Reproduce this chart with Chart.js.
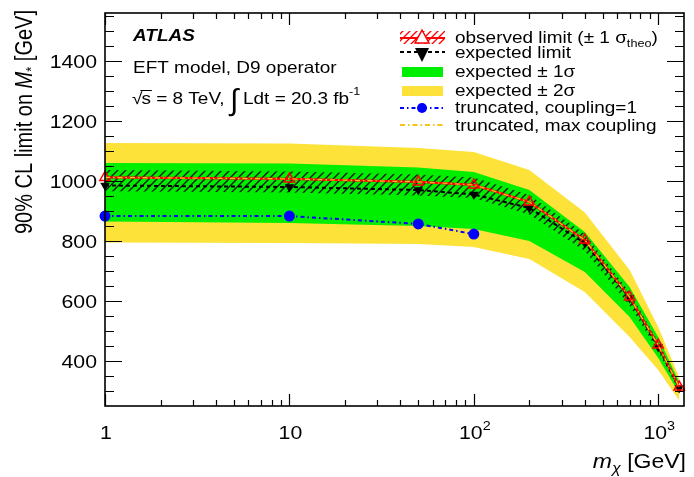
<!DOCTYPE html>
<html>
<head>
<meta charset="utf-8">
<script src="https://cdn.jsdelivr.net/npm/chart.js@4.4.0/dist/chart.umd.min.js"></script>
<style>
  html, body { margin: 0; padding: 0; background: #fff; }
  #wrap { width: 694px; height: 477px; position: relative; }
</style>
</head>
<body>
<div id="wrap"><canvas id="limitChart"></canvas></div>
<script>
// dark matter mass points [GeV] and limits on M* [GeV]
const massPoints    = [1, 10, 50, 100, 200, 400, 700, 1000, 1300];
const observedLimit = [1012, 1007, 997, 987, 930, 803, 613, 453, 313];
const theoUp        = [1037, 1032, 1022, 1012, 953, 823, 628, 464, 321];
const theoDown      = [966, 962, 952, 943, 888, 767, 585, 433, 299];
const expectedLimit = [985, 980, 970, 955, 910, 793, 610, 447, 310];
const sigma1Up      = [1060, 1058, 1045, 1030, 970, 830, 647, 480, 330];
const sigma1Down    = [865, 860, 850, 840, 800, 697, 547, 410, 292];
const sigma2Up      = [1127, 1125, 1110, 1097, 1037, 895, 703, 513, 345];
const sigma2Down    = [795, 793, 790, 780, 740, 630, 480, 370, 268];

const truncMass       = [1, 10, 50, 100];
const truncCoupling1  = [883, 883, 857, 823];
const truncMaxCoupling = [1012, 1007, 997, 987, 930, 803, 613, 453, 313];

const yTicks = [400, 600, 800, 1000, 1200, 1400];
const xTicks = [1, 10, 100, 1000];
const xTickBase = ['1', '10', '10', '10'];
const xTickExp  = ['', '', '2', '3'];

const FONT = '"Liberation Sans", Arial, Helvetica, sans-serif';
const SX = 1.15; // the original picture is a bit stretched sideways

const YELLOW = '#fde23a';
const GREEN = '#00ee00';

const toXY = (xs, ys) => xs.map((x, i) => ({ x: x, y: ys[i] }));

function makeHatch(color, gap, width) {
    const c = document.createElement('canvas');
    c.width = gap; c.height = gap;
    const g = c.getContext('2d');
    g.strokeStyle = color;
    g.lineWidth = width;
    g.beginPath();
    g.moveTo(-1, gap + 1); g.lineTo(gap + 1, -1);
    g.moveTo(-1, 1); g.lineTo(1, -1);
    g.moveTo(gap - 1, gap + 1); g.lineTo(gap + 1, gap - 1);
    g.stroke();
    return g.createPattern(c, 'repeat');
}

// draws a run of text pieces (for sub/superscripts), returns total width
function rich(ctx, parts, x, y, opts = {}) {
    const sx = opts.sx ?? SX, sy = opts.sy ?? 1;
    ctx.save();
    ctx.textBaseline = 'alphabetic';
    ctx.textAlign = 'left';
    ctx.fillStyle = opts.color || '#000';
    let total = 0;
    const widths = parts.map(p => {
        ctx.font = `${p.style || ''} ${p.size}px ${FONT}`;
        const w = ctx.measureText(p.t).width * sx + (p.gap || 0);
        total += w;
        return w;
    });
    let cx = x;
    if (opts.align === 'right') cx = x - total;
    else if (opts.align === 'center') cx = x - total / 2;
    parts.forEach((p, i) => {
        ctx.font = `${p.style || ''} ${p.size}px ${FONT}`;
        ctx.save();
        ctx.translate(cx, y + (p.dy || 0));
        ctx.scale(sx, sy);
        ctx.fillText(p.t, 0, 0);
        ctx.restore();
        cx += widths[i];
    });
    ctx.restore();
    return total;
}

const atlasDecor = {
    id: 'atlasDecor',
    afterDraw(chart) {
        const { ctx, chartArea: a, scales: { x, y } } = chart;
        ctx.save();

        // frame + inner ticks
        ctx.strokeStyle = '#000';
        ctx.lineWidth = 1.2;
        ctx.beginPath();
        for (let v = 250; v <= 1560; v += 50) {
            const py = Math.round(y.getPixelForValue(v)) + 0.5;
            if (py < a.top || py > a.bottom) continue;
            const len = v % 200 === 0 ? 17 : 9;
            ctx.moveTo(a.left, py); ctx.lineTo(a.left + len, py);
            ctx.moveTo(a.right, py); ctx.lineTo(a.right - len, py);
        }
        for (let d = 1; d <= 1000; d *= 10) {
            for (let k = 1; k <= 9; k++) {
                const v = d * k;
                if (v > x.max) break;
                const px = Math.round(x.getPixelForValue(v)) + 0.5;
                const len = k === 1 ? 12 : 6;
                ctx.moveTo(px, a.bottom); ctx.lineTo(px, a.bottom - len);
                ctx.moveTo(px, a.top); ctx.lineTo(px, a.top + len);
            }
        }
        ctx.stroke();
        ctx.lineWidth = 1.6;
        ctx.strokeRect(a.left, a.top, a.right - a.left, a.bottom - a.top);

        // tick labels
        yTicks.forEach(v => {
            rich(ctx, [{ t: String(v), size: 18.5 }], 97, y.getPixelForValue(v) + 6.6, { align: 'right' });
        });
        xTicks.forEach((v, i) => {
            const parts = [{ t: xTickBase[i], size: 18.5 }];
            if (xTickExp[i]) parts.push({ t: xTickExp[i], size: 12.5, dy: -9 });
            rich(ctx, parts, x.getPixelForValue(v) + 1, 439, { align: 'center' });
        });

        // axis titles
        rich(ctx, [
            { t: 'm', size: 20, style: 'italic' },
            { t: 'χ', size: 14, style: 'italic', dy: 5 },
            { t: ' [GeV]', size: 20 }
        ], a.right + 2, 468, { align: 'right' });

        ctx.save();
        ctx.translate(32, 10);
        ctx.rotate(-Math.PI / 2);
        rich(ctx, [
            { t: '90% CL limit on ', size: 20 },
            { t: 'M', size: 20, style: 'italic' },
            { t: '*', size: 13, dy: 4 },
            { t: ' [GeV]', size: 20 }
        ], 0, 0, { align: 'right', sx: 1, sy: SX });
        ctx.restore();

        // ATLAS label block
        rich(ctx, [{ t: 'ATLAS', size: 16.5, style: 'italic bold' }], 133, 41);
        rich(ctx, [{ t: 'EFT model, D9 operator', size: 16.5 }], 133, 73);
        const wRoot = rich(ctx, [{ t: '√', size: 16.5 }], 132, 104);
        const wS = rich(ctx, [{ t: 's', size: 16.5 }], 132 + wRoot - 1, 104);
        ctx.lineWidth = 1;
        ctx.beginPath();
        ctx.moveTo(132 + wRoot - 2, 90.5); ctx.lineTo(132 + wRoot + wS, 90.5);
        ctx.stroke();
        rich(ctx, [{ t: ' = 8 TeV,', size: 16.5 }], 132 + wRoot + wS - 1, 104);
        rich(ctx, [{ t: '∫', size: 30 }], 230, 110, { sx: 1 });
        rich(ctx, [
            { t: 'Ldt = 20.3 fb', size: 16.5 },
            { t: '-1', size: 11, dy: -9 }
        ], 243, 104);

        // legend
        const lx0 = 400, lx1 = 445, tx = 455;
        // observed: red hatch box + line + open triangle
        ctx.save();
        ctx.beginPath();
        ctx.rect(lx0, 31, lx1 - lx0, 13);
        ctx.clip();
        ctx.fillStyle = makeHatch('#ff0000', 7, 1.3);
        ctx.fillRect(lx0, 31, lx1 - lx0, 13);
        ctx.restore();
        ctx.strokeStyle = '#ff0000';
        ctx.lineWidth = 2;
        ctx.beginPath(); ctx.moveTo(lx0, 38); ctx.lineTo(lx1, 38); ctx.stroke();
        ctx.lineWidth = 1.5;
        ctx.beginPath();
        ctx.moveTo(422, 30); ctx.lineTo(429, 43); ctx.lineTo(415, 43); ctx.closePath();
        ctx.fillStyle = '#fff'; ctx.fill(); ctx.stroke();
        rich(ctx, [
            { t: 'observed limit (± 1 σ', size: 16.5 },
            { t: 'theo', size: 11, dy: 4 },
            { t: ')', size: 16.5 }
        ], tx, 42.5);

        // expected: black dashed + down triangle
        ctx.strokeStyle = '#000';
        ctx.lineWidth = 2;
        ctx.setLineDash([4, 3]);
        ctx.beginPath(); ctx.moveTo(lx0, 52); ctx.lineTo(lx1, 52); ctx.stroke();
        ctx.setLineDash([]);
        ctx.fillStyle = '#000';
        ctx.beginPath();
        ctx.moveTo(415, 48); ctx.lineTo(429, 48); ctx.lineTo(422, 62); ctx.closePath(); ctx.fill();
        rich(ctx, [{ t: 'expected limit', size: 16.5 }], tx, 57.5);

        ctx.fillStyle = GREEN;
        ctx.fillRect(402, 67, 41, 10);
        rich(ctx, [{ t: 'expected ± 1σ', size: 16.5 }], tx, 77);
        ctx.fillStyle = YELLOW;
        ctx.fillRect(402, 86, 41, 10);
        rich(ctx, [{ t: 'expected ± 2σ', size: 16.5 }], tx, 95.5);

        ctx.strokeStyle = '#0000ff';
        ctx.lineWidth = 2;
        ctx.setLineDash([4, 3, 1.5, 3]);
        ctx.beginPath(); ctx.moveTo(lx0, 108); ctx.lineTo(lx1, 108); ctx.stroke();
        ctx.setLineDash([]);
        ctx.fillStyle = '#0000ff';
        ctx.beginPath(); ctx.arc(422, 108, 5, 0, Math.PI * 2); ctx.fill();
        rich(ctx, [{ t: 'truncated, coupling=1', size: 16.5 }], tx, 113);

        ctx.strokeStyle = '#f7c21a';
        ctx.lineWidth = 1.8;
        ctx.setLineDash([5, 3, 1.5, 3]);
        ctx.beginPath(); ctx.moveTo(lx0, 125); ctx.lineTo(lx1, 125); ctx.stroke();
        ctx.setLineDash([]);
        rich(ctx, [{ t: 'truncated, max coupling', size: 16.5 }], tx, 130.5);

        ctx.restore();
    }
};

const noLine = 'rgba(0,0,0,0)';
const band = (vals, extra) => Object.assign({
    data: toXY(massPoints, vals),
    borderColor: noLine,
    borderWidth: 0,
    pointRadius: 0,
    fill: false
}, extra);

new Chart(document.getElementById('limitChart'), {
    type: 'line',
    data: {
        datasets: [
            {   // truncated, max coupling (drawn on top)
                data: toXY(massPoints, truncMaxCoupling),
                borderColor: '#f7c21a',
                borderWidth: 1.3,
                borderDash: [5, 3, 1.5, 3],
                pointRadius: 0,
                fill: false,
                clip: false
            },
            {   // truncated, coupling=1
                data: toXY(truncMass, truncCoupling1),
                borderColor: '#0000ff',
                borderWidth: 2,
                borderDash: [4, 3, 1.5, 3],
                pointStyle: 'circle',
                pointRadius: 4.5,
                pointBackgroundColor: '#0000ff',
                pointBorderColor: '#0000ff',
                fill: false,
                clip: false
            },
            {   // observed
                data: toXY(massPoints, observedLimit),
                borderColor: '#ff0000',
                borderWidth: 2.2,
                pointStyle: 'triangle',
                pointRadius: 6,
                pointBorderWidth: 1.5,
                pointBorderColor: '#ff0000',
                pointBackgroundColor: 'rgba(255,255,255,0)',
                fill: false,
                clip: false
            },
            {   // expected
                data: toXY(massPoints, expectedLimit),
                borderColor: '#000',
                borderWidth: 2,
                borderDash: [4, 3],
                pointStyle: 'triangle',
                rotation: 180,
                pointRadius: 5.5,
                pointBorderWidth: 0,
                pointBackgroundColor: '#000',
                fill: false,
                clip: false
            },
            band(theoUp, { fill: '+1', backgroundColor: makeHatch('#1a1a1a', 8, 1.4) }),
            band(theoDown),
            band(sigma1Up, { fill: '+1', backgroundColor: GREEN }),
            band(sigma1Down),
            band(sigma2Up, { fill: '+1', backgroundColor: YELLOW }),
            band(sigma2Down)
        ]
    },
    options: {
        responsive: true,
        maintainAspectRatio: false,
        animation: false,
        events: [],
        layout: { padding: { left: 105, right: 10, top: 13, bottom: 71 } },
        elements: { line: { tension: 0 } },
        plugins: {
            legend: { display: false },
            tooltip: { enabled: false },
            filler: { propagate: false }
        },
        scales: {
            x: { type: 'logarithmic', min: 1, max: 1380, display: false },
            y: { type: 'linear', min: 250, max: 1560, display: false }
        }
    },
    plugins: [atlasDecor]
});
</script>
</body>
</html>
